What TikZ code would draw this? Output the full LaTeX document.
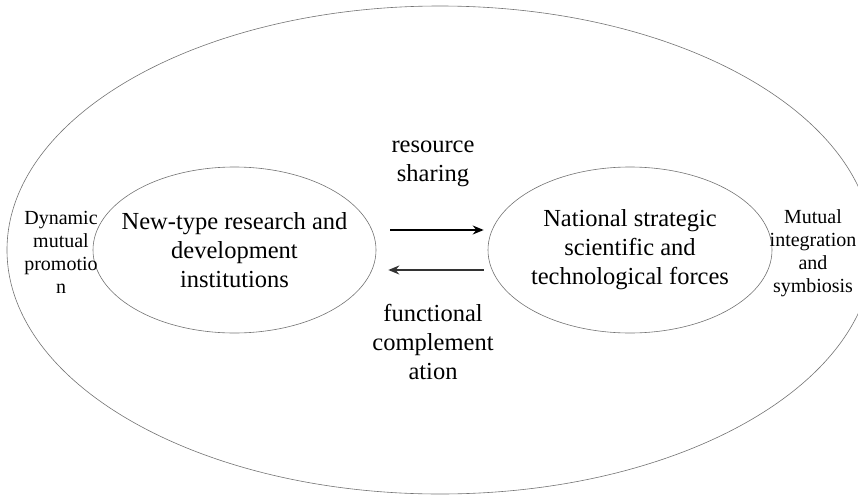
\documentclass[tikz,border=0pt]{standalone}
\usepackage{fontspec}
\setmainfont{Liberation Serif}
\usetikzlibrary{shapes.geometric, arrows.meta}

\begin{document}
\begin{tikzpicture}[
  x=1pt, y=-1pt,
  blob/.style={ellipse, draw=black!55, line width=0.6pt, inner sep=0pt},
  bigtxt/.style={align=center, font=\fontsize{24.5}{29}\selectfont},
  smalltxt/.style={align=center, font=\fontsize{20}{23}\selectfont},
  arr/.style={->, line width=1.3pt},
  >={Stealth[length=11pt, width=9pt]}
]
  \useasboundingbox (0,0) rectangle (858,495);

  % outer ring
  \node[blob, minimum width=866pt, minimum height=488pt] (outer) at (440,250) {};

  % the two bodies
  \node[blob, minimum width=283pt, minimum height=166pt] (nri) at (234.5,250) {};
  \node[blob, minimum width=284pt, minimum height=166pt] (nssf) at (630,250) {};
  \node[bigtxt] (nritxt) at (nri) {New-type research and\\development\\institutions};
  \node[bigtxt] (nssftxt) at (nssf) {National strategic\\scientific and\\technological forces};

  % links between them
  \draw[arr, shorten <=14pt, shorten >=4pt] ([yshift=20pt]nri.east) -- ([yshift=20pt]nssf.west);
  \draw[arr, black!80, shorten <=4pt, shorten >=12pt] ([yshift=-20pt]nssf.west) -- ([yshift=-20pt]nri.east);

  \node[bigtxt] (share) at (433,164) {resource\\sharing};
  \node[bigtxt] (compl) at (433,342) {functional\\complement\\ation};

  % side labels
  \node[smalltxt] (dyn) at (61,252) {Dynamic\\mutual\\promotio\\n};
  \node[smalltxt] (mut) at (813,253) {Mutual\\integration\\and\\symbiosis};
\end{tikzpicture}
\end{document}
